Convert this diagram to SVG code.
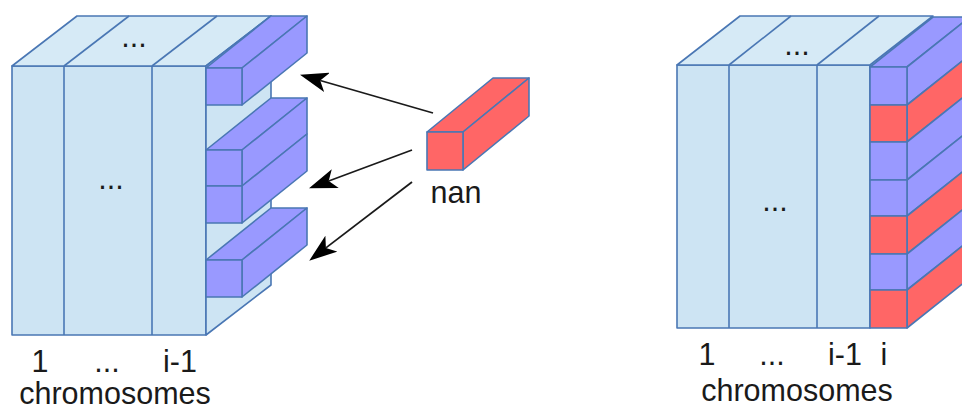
<svg xmlns="http://www.w3.org/2000/svg" width="962" height="412" viewBox="0 0 962 412">
<defs>
<style>
.lb{fill:#cde4f3;stroke:#4a77b4;stroke-width:1.6;stroke-linejoin:round}
.tp{fill:#d6eaf6;stroke:#4a77b4;stroke-width:1.6;stroke-linejoin:round}
.pu{fill:#9999ff;stroke:#4a77b4;stroke-width:1.6;stroke-linejoin:round}
.rd{fill:#ff6666;stroke:#4a77b4;stroke-width:1.6;stroke-linejoin:round}
.ln{stroke:#4a77b4;stroke-width:1.6;fill:none}
.t{font-family:"Liberation Sans",Arial,sans-serif;font-size:30.5px;fill:#1a1a1a;text-anchor:middle}
.c{stroke:#1a1a1a;stroke-width:1.8;fill:none;marker-end:url(#ah)}
</style>
<marker id="ah" viewBox="0 0 28 20" refX="7" refY="10" markerWidth="28" markerHeight="20" markerUnits="userSpaceOnUse" orient="auto">
<path d="M0,0 L28,10 L0,20 L7,10 z" fill="#000"/>
</marker>
</defs>
<rect width="962" height="412" fill="#fff"/>

<g id="left-cube">
<rect class="lb" x="12" y="66" width="194" height="269"/>
<line class="ln" x1="64" y1="66" x2="64" y2="335"/>
<line class="ln" x1="152" y1="66" x2="152" y2="335"/>
<polygon class="tp" points="12,66 77,16 271,16 206,66"/>
<line class="ln" x1="64" y1="66" x2="129" y2="16"/>
<line class="ln" x1="152" y1="66" x2="217" y2="16"/>
<polygon class="lb" points="206,66 271,16 271,285 206,335"/>
<text class="t" x="134" y="47">...</text>
<text class="t" x="111" y="189">...</text>
</g>

<g id="bar-1">
<polygon class="pu" points="206,68 271,16 307,16 242,68"/>
<polygon class="pu" points="242,68 307,16 307,53 242,105"/>
<rect class="pu" x="206" y="68" width="36" height="37"/>
</g>
<g id="bar-2">
<polygon class="pu" points="206,150 271,98 307,98 242,150"/>
<polygon class="pu" points="242,150 307,98 307,134 242,186"/>
<rect class="pu" x="206" y="150" width="36" height="36"/>
</g>
<g id="bar-3">
<polygon class="pu" points="242,186 307,134 307,171 242,223"/>
<rect class="pu" x="206" y="186" width="36" height="37"/>
</g>
<g id="bar-4">
<polygon class="pu" points="206,260 271,208 307,208 242,260"/>
<polygon class="pu" points="242,260 307,208 307,245 242,297"/>
<rect class="pu" x="206" y="260" width="36" height="37"/>
</g>

<g id="left-labels">
<text class="t" x="40" y="372">1</text>
<text class="t" x="107" y="372">...</text>
<text class="t" x="180" y="372">i-1</text>
<text class="t" x="115" y="404">chromosomes</text>
</g>

<g id="nan-block">
<polygon class="rd" points="427,132 493,78 529,78 463,132"/>
<polygon class="rd" points="463,132 529,78 529,116 463,170"/>
<rect class="rd" x="427" y="132" width="36" height="38"/>
<text class="t" x="456" y="203">nan</text>
</g>

<g id="connectors">
<line class="c" x1="433" y1="113" x2="320.2" y2="80.5"/>
<line class="c" x1="412" y1="150" x2="328.7" y2="181"/>
<line class="c" x1="412" y1="182" x2="325.9" y2="247.9"/>
</g>

<g id="right-cube">
<rect class="lb" x="677" y="65" width="193" height="263"/>
<line class="ln" x1="729" y1="65" x2="729" y2="328"/>
<line class="ln" x1="817" y1="65" x2="817" y2="328"/>
<polygon class="tp" points="677,65 740,16 933,16 870,65"/>
<line class="ln" x1="729" y1="65" x2="791" y2="16"/>
<line class="ln" x1="817" y1="65" x2="879" y2="16"/>
<text class="t" x="797" y="55">...</text>
<text class="t" x="775" y="211">...</text>
</g>

<g id="column-i">
<polygon class="pu" points="870,67 933,17 970,17 907,67"/>
<polygon class="pu" points="907,67 970,17 970,55 907,105"/>
<polygon class="rd" points="907,105 970,55 970,92 907,142"/>
<polygon class="pu" points="907,142 970,92 970,130 907,180"/>
<polygon class="pu" points="907,180 970,130 970,166 907,216"/>
<polygon class="rd" points="907,216 970,166 970,204 907,254"/>
<polygon class="pu" points="907,254 970,204 970,240 907,290"/>
<polygon class="rd" points="907,290 970,240 970,278 907,328"/>
<rect class="pu" x="870" y="67" width="37" height="38"/>
<rect class="rd" x="870" y="105" width="37" height="37"/>
<rect class="pu" x="870" y="142" width="37" height="38"/>
<rect class="pu" x="870" y="180" width="37" height="36"/>
<rect class="rd" x="870" y="216" width="37" height="38"/>
<rect class="pu" x="870" y="254" width="37" height="36"/>
<rect class="rd" x="870" y="290" width="37" height="38"/>
</g>

<g id="right-labels">
<text class="t" x="707" y="365">1</text>
<text class="t" x="772" y="365">...</text>
<text class="t" x="845" y="365">i-1</text>
<text class="t" x="884" y="365">i</text>
<text class="t" x="797" y="401">chromosomes</text>
</g>
</svg>
